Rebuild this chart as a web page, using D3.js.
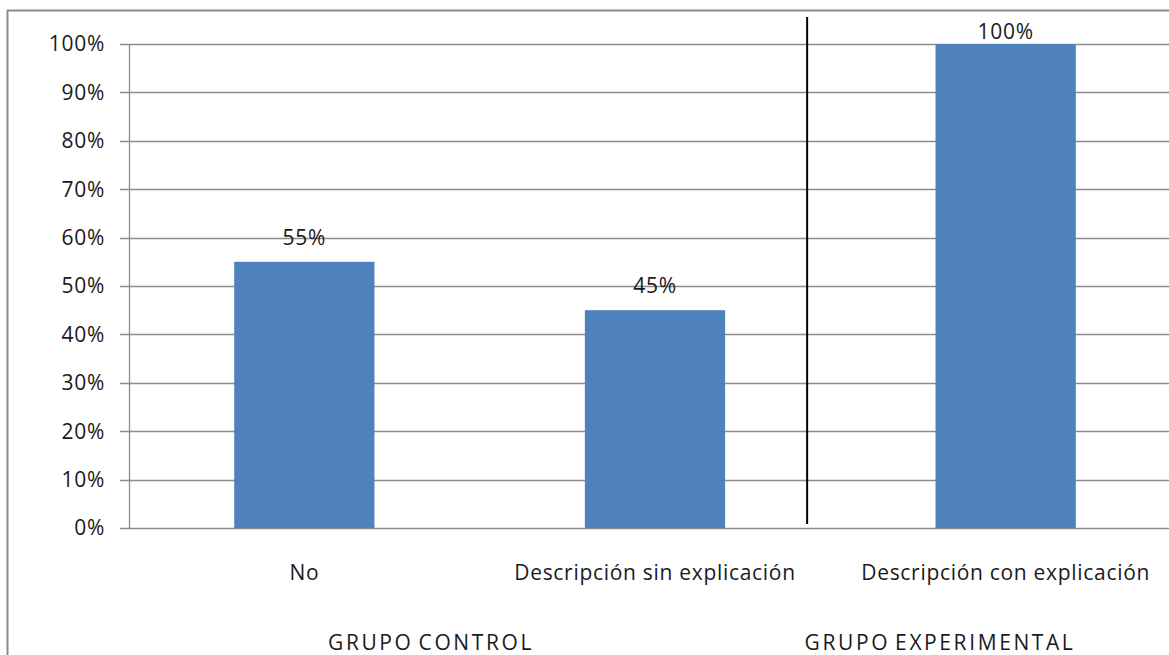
<!DOCTYPE html>
<html>
<head>
<meta charset="utf-8">
<script src="https://cdn.jsdelivr.net/npm/d3@7"></script>
<style>
  html, body { margin: 0; padding: 0; background: #fff; }
  svg { display: block; font-family: "Open Sans", Lato, sans-serif; }
</style>
</head>
<body>
<svg id="chart" width="1169" height="655"></svg>
<script>
const categories = ["No", "Descripción sin explicación", "Descripción con explicación"];
const values = [0.55, 0.45, 1.00];
const valueLabels = ["55%", "45%", "100%"];
const yTicks = [0, 0.1, 0.2, 0.3, 0.4, 0.5, 0.6, 0.7, 0.8, 0.9, 1.0];
const groups = ["GRUPO CONTROL", "GRUPO EXPERIMENTAL"];

const svg = d3.select("#chart");
const W = 1169, H = 655;
const plotLeft = 129, plotRight = 1181, plotTop = 44, plotBottom = 528;
const fontSize = 21;
const textColor = "#1a1a1a";

// outer chart frame (cropped at right and bottom)
svg.append("path")
  .attr("d", `M7.5,${H} V10.5 H${W}`)
  .attr("fill", "none").attr("stroke", "#8c8c8c").attr("stroke-width", 2);

const x = d3.scaleBand().domain(categories).range([plotLeft, plotRight]).paddingInner(0.6).paddingOuter(0.3);
const y = d3.scaleLinear().domain([0, 1]).range([plotBottom, plotTop]);

// horizontal gridlines with tick marks to the left of the axis
svg.append("g").selectAll("line").data(yTicks).join("line")
  .attr("x1", 120).attr("x2", W)
  .attr("y1", d => Math.round(y(d)) + 0.5).attr("y2", d => Math.round(y(d)) + 0.5)
  .attr("stroke", "#8c8c8c").attr("stroke-width", 1.3);

// y axis line
svg.append("line")
  .attr("x1", plotLeft + 0.5).attr("x2", plotLeft + 0.5)
  .attr("y1", plotTop).attr("y2", plotBottom + 0.5)
  .attr("stroke", "#8c8c8c").attr("stroke-width", 1.3);

// y tick labels
svg.append("g").selectAll("text").data(yTicks).join("text")
  .attr("x", 105).attr("y", d => y(d))
  .attr("dy", "0.35em").attr("text-anchor", "end")
  .attr("font-size", fontSize).attr("letter-spacing", 0.7).attr("fill", textColor)
  .text(d => d3.format(".0%")(d));

// bars
svg.append("g").selectAll("rect").data(values).join("rect")
  .attr("x", (d, i) => x(categories[i]))
  .attr("width", x.bandwidth())
  .attr("y", d => y(d))
  .attr("height", d => y(0) - y(d))
  .attr("fill", "#4f81bd");

// value labels (kept inside the plot frame when the bar reaches the top)
svg.append("g").selectAll("text").data(values).join("text")
  .attr("x", (d, i) => x(categories[i]) + x.bandwidth() / 2)
  .attr("y", d => Math.max(y(d) - 17, 39))
  .attr("text-anchor", "middle")
  .attr("font-size", fontSize).attr("letter-spacing", 0.7).attr("fill", textColor)
  .text((d, i) => valueLabels[i]);

// category labels
svg.append("g").selectAll("text").data(categories).join("text")
  .attr("x", d => x(d) + x.bandwidth() / 2)
  .attr("y", 580)
  .attr("text-anchor", "middle")
  .attr("font-size", fontSize).attr("letter-spacing", 0.7).attr("fill", textColor)
  .text(d => d);

// divider between control and experimental groups
const divX = x(categories[1]) + x.bandwidth() + 82;
svg.append("line")
  .attr("x1", divX).attr("x2", divX)
  .attr("y1", 17).attr("y2", 524)
  .attr("stroke", "#000").attr("stroke-width", 2);

// group labels
const groupX = [431, 940];
svg.append("g").selectAll("text").data(groups).join("text")
  .attr("x", (d, i) => groupX[i])
  .attr("y", 650)
  .attr("text-anchor", "middle")
  .attr("letter-spacing", 2.6)
  .attr("word-spacing", -3)
  .attr("font-size", fontSize).attr("fill", textColor)
  .text(d => d);
</script>
</body>
</html>
